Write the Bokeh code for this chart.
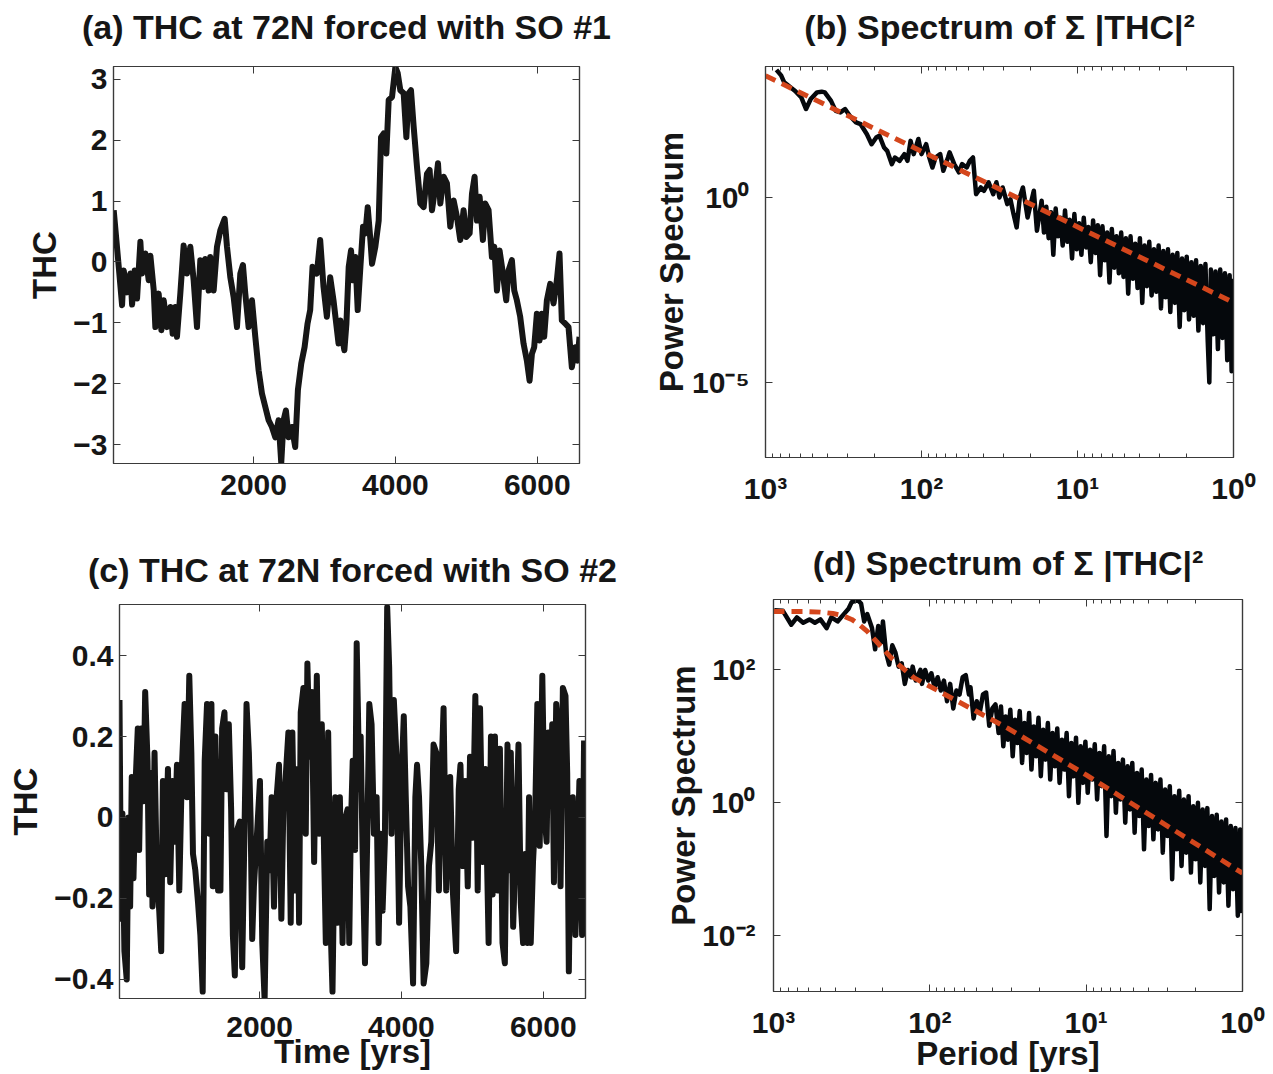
import numpy as np
from bokeh.plotting import figure
from bokeh.models import (Range1d, FixedTicker, LinearAxis, LogAxis,
                          CustomJSTickFormatter)
from bokeh.layouts import row, column
from bokeh.embed import file_html
from bokeh.resources import INLINE

# ---------------- data ----------------
# (a) THC at 72N forced with SO #1
a_year = [28, 99, 146, 169, 216, 263, 287, 324, 357, 404,
          428, 474, 521, 545, 592, 615, 662, 700, 733, 780,
          827, 859, 897, 920, 967, 1014, 1061, 1108, 1155, 1202,
          1249, 1296, 1320, 1367, 1390, 1437, 1484, 1531, 1592, 1625,
          1672, 1719, 1766, 1813, 1850, 1883, 1930, 1977, 2024, 2071,
          2118, 2165, 2212, 2259, 2306, 2352, 2390, 2423, 2456, 2493,
          2540, 2587, 2625, 2672, 2719, 2761, 2798, 2831, 2892, 2939,
          2986, 3033, 3080, 3127, 3198, 3224, 3247, 3280, 3309, 3341,
          3374, 3402, 3435, 3468, 3506, 3543, 3576, 3609, 3647, 3670,
          3717, 3764, 3797, 3834, 3872, 3905, 3952, 3999, 4032, 4069,
          4116, 4154, 4186, 4219, 4257, 4304, 4351, 4398, 4445, 4482,
          4515, 4562, 4600, 4633, 4679, 4726, 4773, 4820, 4867, 4914,
          4961, 4999, 5046, 5079, 5116, 5149, 5187, 5233, 5266, 5313,
          5360, 5393, 5431, 5468, 5515, 5562, 5595, 5642, 5675, 5712,
          5759, 5806, 5853, 5891, 5924, 5956, 5994, 6032, 6064, 6097,
          6135, 6182, 6229, 6276, 6313, 6346, 6393, 6440, 6487, 6534,
          6567, 6595]
a_thc = [0.85, -0.08, -0.71, -0.14, -0.50, -0.19, -0.70, -0.14, -0.60, 0.33,
         -0.19, 0.14, -0.30, 0.10, -0.46, -1.07, -0.52, -1.12, -0.63, -1.07,
         -0.74, -1.18, -0.74, -1.23, -0.52, 0.27, -0.19, 0.25, -0.30, -1.07,
         0.03, -0.41, 0.05, -0.47, 0.08, -0.47, 0.25, 0.52, 0.71, 0.25,
         -0.25, -0.58, -1.07, -0.19, -0.05, -0.52, -1.07, -0.63, -1.23, -1.78,
         -2.16, -2.38, -2.60, -2.71, -2.88, -2.60, -3.30, -2.60, -2.44, -2.88,
         -2.71, -3.04, -2.10, -1.67, -1.40, -1.01, -0.79, -0.08, -0.19, 0.36,
         -0.41, -0.90, -0.25, -0.63, -1.34, -0.96, -1.23, -1.45, -1.01, -0.08,
         0.19, -0.30, 0.08, -0.79, -0.08, 0.58, 0.47, 0.90, 0.36, -0.03,
         0.25, 0.68, 2.05, 2.11, 1.78, 2.66, 2.71, 3.20, 3.10, 2.82,
         2.77, 2.05, 2.77, 2.82, 2.22, 1.56, 0.96, 0.90, 1.45, 1.51,
         0.85, 1.23, 1.62, 0.96, 1.40, 1.29, 0.58, 1.01, 0.74, 0.36,
         0.85, 0.41, 0.47, 1.12, 1.40, 0.68, 1.07, 0.36, 0.96, 0.85,
         0.08, 0.25, -0.47, 0.19, -0.19, -0.63, -0.14, 0.03, -0.47, -0.63,
         -0.90, -1.34, -1.62, -1.95, -1.51, -1.40, -0.85, -1.29, -0.85, -1.23,
         -0.63, -0.36, -0.68, -0.30, 0.14, -0.96, -1.01, -1.07, -1.73, -1.40,
         -1.62, -1.23]

# (c) THC at 72N forced with SO #2
c_year = [25, 47, 66, 94, 127, 151, 175, 198, 222, 255,
          283, 302, 330, 363, 387, 420, 443, 472, 490, 519,
          552, 585, 613, 637, 670, 708, 740, 773, 802, 835,
          868, 906, 943, 976, 1009, 1038, 1061, 1094, 1132, 1165,
          1198, 1226, 1259, 1292, 1321, 1340, 1377, 1415, 1448, 1472,
          1505, 1533, 1566, 1599, 1623, 1651, 1684, 1722, 1755, 1792,
          1816, 1849, 1873, 1896, 1920, 1967, 2005, 2038, 2071, 2108,
          2141, 2170, 2203, 2236, 2274, 2307, 2335, 2368, 2406, 2439,
          2462, 2500, 2533, 2557, 2580, 2618, 2651, 2674, 2707, 2736,
          2769, 2807, 2840, 2877, 2910, 2934, 2967, 3005, 3028, 3066,
          3099, 3132, 3170, 3198, 3240, 3264, 3285, 3313, 3346, 3369,
          3407, 3425, 3453, 3486, 3519, 3547, 3579, 3612, 3650, 3678,
          3706, 3734, 3766, 3799, 3827, 3860, 3893, 3930, 3967, 4000,
          4033, 4061, 4094, 4126, 4164, 4196, 4220, 4248, 4280, 4313,
          4351, 4388, 4421, 4453, 4491, 4528, 4561, 4594, 4631, 4654,
          4687, 4724, 4771, 4808, 4832, 4865, 4897, 4935, 4967, 5005,
          5042, 5075, 5108, 5145, 5182, 5229, 5262, 5285, 5318, 5355,
          5388, 5425, 5458, 5495, 5519, 5542, 5575, 5612, 5650, 5682,
          5715, 5743, 5776, 5799, 5823, 5855, 5883, 5916, 5949, 5986,
          6019, 6047, 6070, 6103, 6126, 6150, 6182, 6220, 6243, 6276,
          6313, 6337, 6360, 6388, 6416, 6453, 6477, 6509, 6547, 6575]
c_thc = [0.29, -0.25, 0.01, -0.33, -0.40, 0.00, -0.22, 0.10, -0.15, 0.10,
         0.22, -0.08, 0.22, 0.04, 0.31, 0.14, -0.19, 0.11, -0.22, 0.16,
         -0.15, -0.23, -0.33, 0.09, -0.14, 0.12, -0.16, 0.09, -0.06, 0.13,
         -0.18, 0.13, 0.28, 0.05, 0.35, 0.16, -0.09, -0.13, -0.21, -0.29,
         -0.43, 0.14, 0.28, -0.04, 0.28, -0.17, 0.20, -0.18, -0.18, 0.22,
         0.26, 0.07, 0.23, 0.02, -0.29, -0.39, -0.03, -0.01, -0.37, 0.02,
         0.28, 0.16, 0.00, -0.30, -0.17, -0.03, 0.09, -0.31, -0.45, -0.06,
         -0.13, 0.05, -0.22, 0.04, 0.13, -0.25, 0.02, 0.10, 0.21, -0.26,
         0.21, -0.18, 0.12, -0.26, 0.26, 0.32, -0.04, 0.38, 0.15, 0.31,
         -0.11, 0.35, -0.04, 0.23, -0.09, -0.31, 0.21, -0.29, -0.43, 0.05,
         -0.26, 0.05, -0.31, -0.01, 0.02, -0.31, -0.04, 0.14, -0.08, 0.43,
         0.07, 0.20, -0.09, -0.36, -0.04, 0.28, 0.23, -0.04, 0.05, -0.31,
         -0.04, -0.23, -0.06, 0.52, 0.37, -0.04, 0.29, 0.15, -0.26, 0.09,
         0.25, 0.05, -0.17, -0.22, -0.41, 0.05, 0.13, 0.05, -0.12, -0.41,
         -0.36, -0.12, -0.06, 0.18, 0.16, -0.18, 0.09, 0.27, -0.18, -0.04,
         0.10, -0.18, -0.33, 0.07, 0.13, -0.12, 0.09, -0.17, 0.15, -0.05,
         0.30, -0.18, 0.27, -0.11, 0.12, -0.31, 0.20, -0.19, 0.20, -0.18,
         0.17, -0.31, -0.36, 0.18, -0.13, 0.16, -0.27, -0.06, 0.18, -0.21,
         -0.31, -0.09, -0.31, 0.05, -0.31, -0.11, -0.01, 0.28, -0.07, 0.35,
         0.00, -0.06, 0.21, 0.05, 0.23, -0.16, 0.28, 0.20, -0.17, 0.32,
         0.30, 0.11, -0.38, -0.01, 0.05, -0.29, -0.13, 0.09, -0.29, 0.19]

# (b) spectrum, read as log10(period) / log10(power)
b_log_period = [2.93, 2.90, 2.88, 2.84, 2.81, 2.77, 2.74, 2.71, 2.67, 2.64,
                2.62, 2.58, 2.55, 2.52, 2.49, 2.46, 2.42, 2.39, 2.35, 2.32,
                2.29, 2.27, 2.24, 2.22, 2.19, 2.17, 2.14, 2.11, 2.09, 2.07,
                2.05, 2.02, 2.00, 1.97, 1.95, 1.93, 1.91, 1.88, 1.86, 1.83,
                1.82, 1.79, 1.76, 1.74, 1.71, 1.69, 1.67, 1.65, 1.62, 1.60,
                1.57, 1.54, 1.52, 1.50, 1.48, 1.45, 1.43, 1.41, 1.39, 1.37,
                1.35, 1.32, 1.30, 1.28, 1.26, 1.24, 1.23,
                1.215, 1.200, 1.185, 1.170, 1.155, 1.140, 1.125, 1.110, 1.095, 1.080,
                1.065, 1.050, 1.035, 1.020, 1.005, 0.990, 0.975, 0.960, 0.945, 0.930,
                0.915, 0.900, 0.885, 0.870, 0.855, 0.840, 0.825, 0.810, 0.795, 0.780,
                0.765, 0.750, 0.735, 0.720, 0.705, 0.690, 0.675, 0.660, 0.645, 0.630,
                0.615, 0.600, 0.585, 0.570, 0.555, 0.540, 0.525, 0.510, 0.495, 0.480,
                0.465, 0.450, 0.435, 0.420, 0.405, 0.390, 0.375, 0.360, 0.345, 0.330,
                0.315, 0.300, 0.285, 0.270, 0.255, 0.240, 0.225, 0.210, 0.195, 0.180,
                0.165, 0.155, 0.145, 0.130, 0.115, 0.100, 0.085, 0.070, 0.055, 0.040,
                0.025, 0.012, 0.002]
b_log_power = [3.45, 3.30, 3.11, 2.98, 2.88, 2.70, 2.39, 2.66, 2.84, 2.86,
               2.84, 2.61, 2.34, 2.30, 2.39, 2.21, 2.03, 1.98, 1.71, 1.44,
               1.62, 1.67, 1.35, 1.26, 0.90, 1.08, 0.99, 1.17, 0.99, 1.53,
               1.17, 1.58, 1.17, 1.44, 1.08, 0.81, 1.08, 1.17, 0.72, 1.08,
               1.22, 0.90, 0.68, 0.90, 0.81, 0.99, 1.08, 0.09, 0.27, 0.18,
               0.41, 0.09, 0.41, 0.00, 0.27, -0.18, -0.05, -0.45, -0.81, 0.00,
               0.27, -0.54, -0.18, 0.18, -0.90, -0.36, -0.09,
               -0.95, -0.25, -1.10, -0.40, -1.55, -0.30, -1.05, -0.55, -1.30, -0.35,
               -1.20, -0.60, -1.65, -0.45, -1.40, -0.70, -1.55, -0.55, -1.35, -0.80,
               -1.75, -0.62, -1.50, -0.75, -2.10, -0.78, -1.70, -0.95, -2.30, -0.85,
               -1.90, -1.05, -2.05, -0.95, -2.15, -1.10, -2.60, -1.05, -2.20, -1.25,
               -2.45, -1.10, -2.85, -1.30, -2.40, -1.20, -2.65, -1.40, -2.55, -1.30,
               -3.00, -1.45, -2.70, -1.40, -3.10, -1.55, -2.85, -1.50, -3.50, -1.65,
               -3.05, -1.60, -3.30, -1.75, -3.20, -1.70, -3.60, -1.85, -3.40, -1.80,
               -3.90, -5.00, -1.95, -3.70, -2.00, -4.10, -1.95, -3.80, -2.05, -4.40,
               -2.10, -4.70, -2.20]
b_fit_period = [1000.0, 1.0]
b_fit_power = [1950.0, 0.00145]

# (d) spectrum, read as log10(period) / log10(power)
d_log_period = [2.995, 2.94, 2.886, 2.85, 2.81, 2.77, 2.735, 2.70, 2.66, 2.63,
                2.59, 2.55, 2.52, 2.50, 2.46, 2.44, 2.42, 2.40, 2.37, 2.35,
                2.33, 2.31, 2.30, 2.28, 2.26, 2.24, 2.22, 2.20, 2.18, 2.16,
                2.14, 2.12, 2.11, 2.09, 2.06, 2.05, 2.03, 2.01, 1.99, 1.97,
                1.95, 1.93, 1.91, 1.89, 1.87, 1.85, 1.83, 1.81, 1.79, 1.77,
                1.75, 1.74, 1.72, 1.70, 1.68, 1.66, 1.64, 1.62, 1.60, 1.58,
                1.560, 1.545, 1.530, 1.515, 1.500, 1.485, 1.470, 1.455, 1.440, 1.425,
                1.410, 1.395, 1.380, 1.365, 1.350, 1.335, 1.320, 1.305, 1.290, 1.275,
                1.260, 1.245, 1.230, 1.215, 1.200, 1.185, 1.170, 1.155, 1.140, 1.125,
                1.110, 1.095, 1.080, 1.065, 1.050, 1.035, 1.020, 1.005, 0.990, 0.975,
                0.960, 0.945, 0.930, 0.915, 0.900, 0.885, 0.870, 0.855, 0.840, 0.825,
                0.810, 0.795, 0.780, 0.765, 0.750, 0.735, 0.720, 0.705, 0.690, 0.675,
                0.660, 0.645, 0.630, 0.615, 0.600, 0.585, 0.570, 0.555, 0.540, 0.525,
                0.510, 0.495, 0.480, 0.465, 0.450, 0.435, 0.420, 0.405, 0.390, 0.375,
                0.360, 0.345, 0.330, 0.315, 0.300, 0.285, 0.270, 0.255, 0.240, 0.225,
                0.210, 0.195, 0.180, 0.165, 0.150, 0.135, 0.120, 0.105, 0.090, 0.075,
                0.060, 0.045, 0.030, 0.015, 0.003]
d_log_power = [2.90, 2.89, 2.68, 2.79, 2.71, 2.76, 2.71, 2.76, 2.63, 2.79,
               2.73, 2.84, 2.92, 3.02, 3.05, 3.00, 2.73, 2.84, 2.63, 2.31,
               2.66, 2.42, 2.73, 2.26, 2.08, 2.37, 2.26, 2.05, 2.10, 1.79,
               2.00, 1.89, 2.05, 1.84, 2.00, 1.79, 2.00, 1.84, 1.95, 1.74,
               1.89, 1.69, 1.84, 1.53, 1.79, 1.42, 1.69, 1.63, 1.89, 1.92,
               1.63, 1.74, 1.27, 1.53, 1.37, 1.63, 1.66, 1.16, 1.42, 1.48,
               1.05, 1.45, 0.85, 1.30, 0.95, 1.40, 0.70, 1.25, 0.90, 1.38,
               0.60, 1.20, 0.75, 1.35, 0.50, 1.15, 0.70, 1.28, 0.40, 1.10,
               0.65, 1.20, 0.35, 1.05, 0.55, 1.12, 0.30, 0.95, 0.50, 1.05,
               0.10, 0.90, 0.40, 0.98, 0.00, 0.85, 0.30, 0.92, 0.15, 0.80,
               0.35, 0.88, 0.05, 0.75, 0.25, 0.85, -0.50, 0.70, 0.10, 0.78,
               -0.15, 0.60, 0.05, 0.65, -0.30, 0.55, -0.10, 0.60, -0.45, 0.45,
               -0.20, 0.50, -0.70, 0.35, -0.35, 0.42, -0.55, 0.30, -0.40, 0.35,
               -0.75, 0.20, -0.50, 0.25, -1.15, 0.10, -0.70, 0.18, -0.95, 0.05,
               -0.75, 0.10, -1.05, -0.05, -0.85, 0.00, -1.20, -0.10, -0.95, -0.08,
               -1.60, -0.20, -1.10, -0.18, -1.35, -0.28, -1.20, -0.25, -1.55, -0.35,
               -1.30, -0.38, -1.70, -0.40, -1.66]
d_fit_log_period = [3.0, 2.8, 2.7, 2.62, 2.56, 2.5, 2.45, 2.4, 2.35, 2.3,
                    2.25, 2.2, 2.15, 2.1, 1.5, 1.0, 0.5, 0.0]
d_fit_log_power = [2.88, 2.88, 2.87, 2.85, 2.82, 2.76, 2.68, 2.58, 2.45, 2.32,
                   2.19, 2.08, 1.98, 1.88, 1.12, 0.42, -0.32, -1.06]

# ticks
time_ticks = [2000, 4000, 6000]
a_thc_ticks = [-3, -2, -1, 0, 1, 2, 3]
c_thc_ticks = [-0.4, -0.2, 0, 0.2, 0.4]
period_ticks = [1, 10, 100, 1000]
period_minor = [m * 10 ** e for e in range(3) for m in range(2, 10)]
b_power_ticks = [1e-5, 1]
d_power_ticks = [1e-2, 1, 1e2]

# ---------------- styling ----------------
FONT = "Liberation Sans"
INK = "#161616"
SPEC = "#05080c"
RED = "#d4461c"
FRAME = "#3a3a3a"

LIN_FMT = "return tick < 0 ? '\u2212' + String(-tick) : String(tick);"
LOG_FMT = """
const e = Math.round(Math.log10(tick));
const sup = {'-7':'\u207b\u2077','-5':'\u207b\u2075','-2':'\u207b\u00b2','0':'\u2070',
             '1':'\u00b9','2':'\u00b2','3':'\u00b3'};
return '10' + sup[String(e)];
"""
EMPTY_FMT = "return '';"


def style_axis(ax, tick_size="30px"):
    ax.axis_line_color = FRAME
    ax.axis_line_width = 1.2
    ax.major_tick_line_color = FRAME
    ax.minor_tick_line_color = FRAME
    ax.major_tick_in = 7
    ax.major_tick_out = 0
    ax.minor_tick_in = 4
    ax.minor_tick_out = 0
    ax.major_label_text_font = FONT
    ax.major_label_text_font_style = "bold"
    ax.major_label_text_font_size = tick_size
    ax.major_label_text_color = INK
    ax.axis_label_text_font = FONT
    ax.axis_label_text_font_style = "bold"
    ax.axis_label_text_font_size = "33px"
    ax.axis_label_text_color = INK


def make_fig(w, h, borders, xr, yr, xlog, ylog):
    l, r, t, b = borders
    p = figure(width=w, height=h, x_range=xr, y_range=yr,
               x_axis_type="log" if xlog else "linear",
               y_axis_type="log" if ylog else "linear",
               output_backend="svg", toolbar_location=None,
               min_border_left=l, min_border_right=r,
               min_border_top=t, min_border_bottom=b)
    if "frame_align" in p.properties():
        p.frame_align = False
    p.grid.visible = False
    p.outline_line_color = FRAME
    p.outline_line_width = 1.2
    p.background_fill_color = "white"
    p.border_fill_color = "white"
    return p


def set_axes(p, xlog, ylog, xticks, yticks, xminor, yminor, title,
             xlab=None, ylab=None, xstand=4, ystand=6, xls=0, yls=10, tls=16):
    xa = p.xaxis[0]
    ya = p.yaxis[0]
    xa.ticker = FixedTicker(ticks=xticks, minor_ticks=xminor)
    ya.ticker = FixedTicker(ticks=yticks, minor_ticks=yminor)
    xa.formatter = CustomJSTickFormatter(code=LOG_FMT if xlog else LIN_FMT)
    ya.formatter = CustomJSTickFormatter(code=LOG_FMT if ylog else LIN_FMT)
    style_axis(xa)
    style_axis(ya)
    xa.major_label_standoff = xstand
    ya.major_label_standoff = ystand
    if xlab:
        xa.axis_label = xlab
        xa.axis_label_standoff = xls
    if ylab:
        ya.axis_label = ylab
        ya.axis_label_standoff = yls
    # mirrored tick marks on top and right (box style); the top one carries the title
    top = (LogAxis if xlog else LinearAxis)(
        ticker=FixedTicker(ticks=xticks, minor_ticks=xminor),
        formatter=CustomJSTickFormatter(code=EMPTY_FMT))
    right = (LogAxis if ylog else LinearAxis)(
        ticker=FixedTicker(ticks=yticks, minor_ticks=yminor),
        formatter=CustomJSTickFormatter(code=EMPTY_FMT))
    for ax in (top, right):
        style_axis(ax, tick_size="2px")
        ax.major_label_standoff = 0
    top.axis_label = title
    top.axis_label_text_font_size = "34px"
    top.axis_label_standoff = tls
    p.add_layout(top, "above")
    p.add_layout(right, "right")


# ---------------- panels ----------------
pa = make_fig(640, 530, (113, 61, 66, 67), Range1d(25, 6595), Range1d(-3.31, 3.21),
              False, False)
set_axes(pa, False, False, time_ticks, a_thc_ticks, [], [],
         "(a) THC at 72N forced with SO #1",
         ylab="THC", xstand=11, ystand=6, yls=7, tls=21)
pa.line(a_year, a_thc, line_width=6, color=INK, line_join="round")

pb = make_fig(632, 530, (125, 39, 66, 73), Range1d(1000, 1),
              Range1d(10 ** -7.03, 10 ** 3.54), True, True)
set_axes(pb, True, True, period_ticks, b_power_ticks, period_minor, [],
         "(b) Spectrum of \u03a3 |THC|\u00b2",
         ylab="Power Spectrum", xstand=14, ystand=16, yls=-1, tls=21)
pb.line(10 ** np.array(b_log_period), 10 ** np.array(b_log_power),
        line_width=4.5, color=SPEC, line_join="round")
pb.line(b_fit_period, b_fit_power, line_width=5, color=RED, line_dash="11 7")

pc = make_fig(640, 544, (119, 55, 74, 76), Range1d(25, 6595), Range1d(-0.447, 0.526),
              False, False)
set_axes(pc, False, False, time_ticks, c_thc_ticks, [], [],
         "(c) THC at 72N forced with SO #2",
         xlab="Time [yrs]", ylab="THC", xstand=18, ystand=6, xls=-7, yls=7, tls=16)
pc.line(c_year, c_thc, line_width=6, color=INK, line_join="round")

pd = make_fig(632, 544, (133, 30, 69, 83), Range1d(1000, 1),
              Range1d(10 ** -2.84, 10 ** 3.06), True, True)
set_axes(pd, True, True, period_ticks, d_power_ticks, period_minor, [],
         "(d) Spectrum of \u03a3 |THC|\u00b2",
         xlab="Period [yrs]", ylab="Power Spectrum", xstand=14, ystand=18,
         xls=-7, yls=-3, tls=18)
pd.line(10 ** np.array(d_log_period), 10 ** np.array(d_log_power),
        line_width=4.5, color=SPEC, line_join="round")
pd.line(10 ** np.array(d_fit_log_period), 10 ** np.array(d_fit_log_power),
        line_width=5, color=RED, line_dash="11 7")

layout = column(row(pa, pb), row(pc, pd))

with open("out.html", "w", encoding="utf-8") as f:
    f.write(file_html(layout, INLINE))
